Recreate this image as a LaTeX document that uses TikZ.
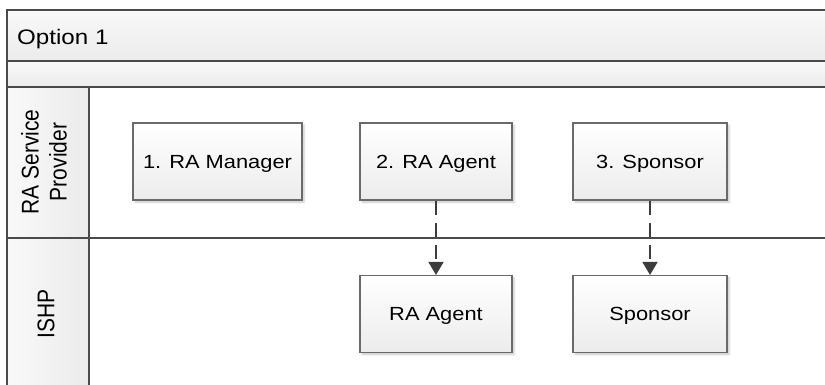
\documentclass[tikz,border=0pt]{standalone}
\usepackage{fontspec}
\usepackage{graphicx}
\setmainfont{Liberation Sans}
\newfontfamily\widesans[FakeStretch=1.15]{Liberation Sans}
\usetikzlibrary{arrows.meta,shadows.blur}

\definecolor{frameline}{HTML}{4A4A4A}
\definecolor{boxline}{HTML}{6A6A6A}
\definecolor{flowline}{HTML}{3C3C3C}
\definecolor{bandtop}{HTML}{F9F9F9}
\definecolor{bandbot}{HTML}{EBEBEB}
\definecolor{boxbot}{HTML}{ECECEC}

\tikzset{
  frame/.style={draw=frameline, line width=1.3pt},
  stepbox/.style={draw=boxline, line width=1.1pt, top color=white, bottom color=boxbot,
    minimum height=77pt, inner sep=0pt, text height=13.7pt, text depth=0pt,
    font=\widesans\fontsize{19}{22}\selectfont,
    blur shadow={shadow xshift=2pt, shadow yshift=-2pt, shadow blur steps=5,
      shadow blur radius=2pt, shadow opacity=22}},
  lanelabel/.style={rotate=90, inner sep=0pt, font=\fontsize{21}{24.5}\selectfont},
  handoff/.style={draw=flowline, line width=1.6pt, dash pattern=on 14pt off 8pt,
    -{Triangle[length=13pt,width=15pt]}}
}

\begin{document}
\begin{tikzpicture}[x=1pt,y=-1pt]
\useasboundingbox (0,0) rectangle (825,385);

% header bands and lane-title column
\shade[top color=bandtop, bottom color=bandbot] (7,10) rectangle (825,61);
\shade[top color=bandtop, bottom color=bandbot] (7,61) rectangle (825,87);
\shade[left color=bandtop, right color=bandbot] (7,87) rectangle (89,385);

% pool frame and lane dividers
\draw[frame] (825,10) -- (7,10) -- (7,385);
\draw[frame] (7,61) -- (825,61);
\draw[frame] (7,87) -- (825,87);
\draw[frame] (7,238) -- (825,238);
\draw[frame] (89,87) -- (89,385);

% titles
\node[anchor=base west, inner sep=0pt, font=\widesans\fontsize{21}{24}\selectfont]
  (title) at (17,45) {Option 1};
\node[lanelabel] (lane1) at (47,162)
  {\scalebox{1}[1.15]{\begin{tabular}{@{}c@{}}RA Service\\Provider\end{tabular}}};
\node[lanelabel] (lane2) at (46,313.5)
  {\scalebox{1}[1.15]{ISHP}};

% process steps
\node[stepbox, minimum width=169pt] (b1) at (217.5,161.5) {1. RA Manager};
\node[stepbox, minimum width=152pt] (b2) at (436,161.5) {2. RA Agent};
\node[stepbox, minimum width=154pt] (b3) at (650,161.5) {3. Sponsor};
\node[stepbox, minimum width=152pt] (c2) at (436,314) {RA Agent};
\node[stepbox, minimum width=154pt] (c3) at (650,314) {Sponsor};

% hand-offs between lanes
\draw[handoff] (b2.south) -- (c2.north);
\draw[handoff] (b3.south) -- (c3.north);
\end{tikzpicture}
\end{document}
